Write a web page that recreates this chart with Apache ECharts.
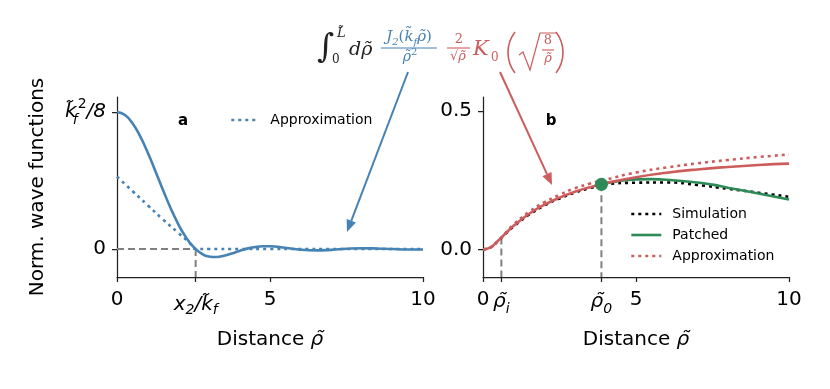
<!DOCTYPE html>
<html><head><meta charset="utf-8">
<script src="https://cdn.jsdelivr.net/npm/echarts@6/dist/echarts.min.js"></script>
<style>html,body{margin:0;padding:0;background:#fff}#c{width:830px;height:389px}</style>
</head><body><div id="c"></div>
<script>
// ---------- data ----------
const rhoA   = [0,0.25,0.5,0.75,1,1.25,1.5,1.75,2,2.25,2.5,2.75,3,3.25,3.5,3.75,4,4.25,4.5,4.75,5,5.5,6,6.5,7,7.5,8,8.5,9,9.5,10];
const waveA  = [1,0.979,0.919,0.825,0.706,0.571,0.432,0.300,0.182,0.086,0.015,-0.031,-0.054,-0.058,-0.049,-0.033,-0.014,0.003,0.014,0.020,0.020,0.009,-0.005,-0.010,-0.006,0.002,0.006,0.004,0.000,-0.003,-0.003];
const approxAx = [0,0.5,1,1.5,2,2.35,2.57,3,4,5,6,7,8,9,10];
const approxAy = [0.528,0.424,0.32,0.216,0.118,0.05,0,0,0,0,0,0,0,0,0];
const x2k = 2.57;            // x2/k_f
const yMinA = -0.204, yMaxA = 1.109;

const rhoB    = [0,0.25,0.5,0.75,1,1.5,2,2.5,3,3.5,4,5,6,7,8,9,10];
const fieldB  = [0,0.007,0.032,0.059,0.085,0.128,0.161,0.187,0.208,0.225,0.239,0.261,0.277,0.289,0.298,0.305,0.310];
const approxB = [0,0.007,0.032,0.060,0.090,0.135,0.170,0.197,0.221,0.238,0.252,0.278,0.296,0.311,0.323,0.334,0.343];
const simB    = [0,0.007,0.031,0.058,0.083,0.125,0.158,0.184,0.205,0.222,0.235,0.241,0.242,0.233,0.219,0.205,0.190];
const patchedX = [3.87,4.5,5,5.5,6,7,7.5,8,9,10];
const patchedY = [0.235,0.248,0.253,0.254,0.252,0.242,0.234,0.223,0.202,0.180];
const rhoI = 0.6,  rhoIVal = 0.043;
const rho0 = 3.87, rho0Val = 0.235;
const yMinB = -0.100, yMaxB = 0.551;

const xTicksA = [0, x2k, 5, 10];
const xLabelsA = ['{n|0}', '{xl|x}{xs|2}{xl|/k̃}{xs|f}', '{n|5}', '{n|10}'];
const yTicksA = [0, 1];
const yLabelsA = ['{n|0}', '{kl|k̃}{ks|f}{kp|2}{kl|/8}'];
const xTicksB = [0, rhoI, rho0, 5, 10];
const xLabelsB = ['{n|0}', '{rl|ρ̃}{rs|i}', '{rl|ρ̃}{rs|0}', '{n|5}', '{n|10}'];
const yTicksB = [0, 0.5];
const yLabelsB = ['{n|0.0}', '{n|0.5}'];

// ---------- styles ----------
const BLUE = '#4682b4', RED = '#cd5c5c', GREEN = '#2e8b57', GREY = '#808080';
const SANS = '"DejaVu Sans", sans-serif';
const SERIF = '"DejaVu Serif", serif';
const DOT = [3, 4];

const richTick = {
  n:  {fontSize: 20, fontFamily: SANS, color: '#000', lineHeight: 24},
  xl: {fontSize: 20, fontFamily: SANS, fontStyle: 'italic', color: '#000', lineHeight: 34},
  xs: {fontSize: 14, fontFamily: SANS, fontStyle: 'italic', color: '#000', lineHeight: 14, padding: [10, 0, 0, 0]},
  rl: {fontSize: 20, fontFamily: SANS, fontStyle: 'italic', color: '#000', lineHeight: 28},
  rs: {fontSize: 14, fontFamily: SANS, fontStyle: 'italic', color: '#000', lineHeight: 14, verticalAlign: 'bottom'},
  kl: {fontSize: 20, fontFamily: SANS, fontStyle: 'italic', color: '#000', lineHeight: 30},
  ks: {fontSize: 14, fontFamily: SANS, fontStyle: 'italic', color: '#000', lineHeight: 14, verticalAlign: 'bottom', width: 1},
  kp: {fontSize: 14, fontFamily: SANS, color: '#000', lineHeight: 14, verticalAlign: 'top'}
};
function pick(ticks, labels) {
  return v => { for (let i = 0; i < ticks.length; i++) if (Math.abs(v - ticks[i]) < 1e-6) return labels[i]; return ''; };
}
const axisLineStyle = {color: '#222', width: 1.25};
function xAxisDef(grid, ticks, labels) {
  return {
    type: 'value', gridIndex: grid, min: 0, max: 10,
    axisLine: {show: true, onZero: false, lineStyle: axisLineStyle},
    axisTick: {show: true, customValues: ticks, length: 5, lineStyle: axisLineStyle},
    axisLabel: {customValues: ticks, formatter: pick(ticks, labels), rich: richTick, margin: 11},
    splitLine: {show: false},
    name: '{n|Distance }{i|ρ̃}', nameLocation: 'middle', nameGap: 53,
    nameTextStyle: {rich: {
      n: {fontSize: 20, fontFamily: SANS, color: '#000'},
      i: {fontSize: 20, fontFamily: SANS, fontStyle: 'italic', color: '#000'}
    }}
  };
}
function yAxisDef(grid, ticks, labels, mn, mx, withName) {
  const a = {
    type: 'value', gridIndex: grid, min: mn, max: mx,
    axisLine: {show: true, onZero: false, lineStyle: axisLineStyle},
    axisTick: {show: true, customValues: ticks, length: 5, lineStyle: axisLineStyle},
    axisLabel: {customValues: ticks, formatter: pick(ticks, labels), rich: richTick, margin: 11},
    splitLine: {show: false}
  };
  if (withName) {
    a.name = 'Norm. wave functions'; a.nameLocation = 'middle'; a.nameGap = 69;
    a.nameTextStyle = {fontSize: 20, fontFamily: SANS, color: '#000'};
  }
  return a;
}
const zip = (xs, ys) => xs.map((x, i) => [x, ys[i]]);
function lineS(name, xi, yi, data, color, dotted, width, z) {
  return {
    name: name, type: 'line', xAxisIndex: xi, yAxisIndex: yi, data: data,
    showSymbol: false, symbol: 'none', smooth: true, z: z,
    lineStyle: {color: color, width: width, type: dotted ? DOT : 'solid', cap: 'butt'},
    itemStyle: {color: color}, silent: true
  };
}
function dashS(xi, yi, data) {
  return {type: 'line', xAxisIndex: xi, yAxisIndex: yi, data: data, showSymbol: false, symbol: 'none', z: 1,
    lineStyle: {color: GREY, width: 2, type: [7, 4]}, silent: true};
}

// ---------- annotation (formula + arrows) ----------
function arrow(x1, y1, x2, y2, color) {
  const dx = x2 - x1, dy = y2 - y1, L = Math.hypot(dx, dy), ux = dx / L, uy = dy / L;
  const hl = 12, hw = 5, bx = x2 - hl * ux, by = y2 - hl * uy;
  return [
    {type: 'line', shape: {x1: x1, y1: y1, x2: bx, y2: by}, style: {stroke: color, lineWidth: 2}},
    {type: 'polygon', shape: {points: [[x2, y2], [bx - hw * uy, by + hw * ux], [bx + hw * uy, by - hw * ux]]}, style: {fill: color}}
  ];
}
function T(x, y, text, size, color, italic, align, rich) {
  const st = {text: text, x: x, y: y, fill: color, font: (italic ? 'italic ' : '') + size + 'px ' + SERIF,
    align: align || 'left', verticalAlign: 'middle'};
  if (rich) st.rich = rich;
  return {type: 'text', style: st};
}
function L(x1, y1, x2, y2, color) {
  return {type: 'line', shape: {x1: x1, y1: y1, x2: x2, y2: y2}, style: {stroke: color, lineWidth: 1.1}};
}
function paren(xEdge, yTop, yBot, bulge, left, color) {
  // thin parenthesis drawn as a circular arc
  const h = (yBot - yTop) / 2, r = (h * h + bulge * bulge) / (2 * bulge), a = Math.asin(h / r);
  const cy = (yTop + yBot) / 2, cx = left ? xEdge + r : xEdge - r;
  const s = left ? Math.PI - a : -a, e = left ? Math.PI + a : a;
  return {type: 'arc', shape: {cx: cx, cy: cy, r: r, startAngle: s, endAngle: e, clockwise: true},
          style: {stroke: color, lineWidth: 1.6, fill: null}};
}
const fr = (c, fs) => ({
  i: {fontFamily: SERIF, fontStyle: 'italic', fontSize: fs, color: c, lineHeight: 20},
  n: {fontFamily: SERIF, fontSize: fs, color: c, lineHeight: 20},
  s: {fontFamily: SERIF, fontStyle: 'italic', fontSize: 10, color: c, lineHeight: 10, verticalAlign: 'bottom'},
  p: {fontFamily: SERIF, fontSize: 10, color: c, lineHeight: 10, verticalAlign: 'top'}
});
const BLK = '#222';
const formula = [
  T(317, 48, '∫', 33, BLK, false),
  T(332, 60, '0', 12, BLK, false),
  T(337, 34, 'L̃', 13, BLK, true),
  T(349, 50, 'dρ̃', 19, BLK, true),
  T(409, 37, '{i|J}{s|2}{n|(}{i|k̃}{s|f}{i|ρ̃}{n|)}', 15, BLUE, false, 'center', fr(BLUE, 15)),
  L(381, 48, 437, 48, BLUE),
  T(410, 57, '{i|ρ̃}{p|2}', 15, BLUE, false, 'center', fr(BLUE, 14)),
  T(459, 40, '2', 13, RED, false, 'center'),
  L(447, 48, 470, 48, RED),
  T(458, 57, '{n|√}{i|ρ̃}', 13, RED, false, 'center', fr(RED, 13)),
  T(473, 50, 'K', 21, RED, true),
  T(491, 58, '0', 12, RED, false),
  paren(508, 32, 73, 7, true, RED),
  {type: 'polyline', shape: {points: [[519, 55], [523, 52], [530, 70], [540, 33], [556, 33]]}, style: {stroke: RED, lineWidth: 1.2, fill: null}},
  T(548, 41, '8', 13, RED, false, 'center'),
  L(542, 50, 554, 50, RED),
  T(548, 59, 'ρ̃', 13, RED, true, 'center'),
  paren(563, 32, 73, 7, false, RED)
];
const graphics = formula
  .concat(arrow(408, 72, 347, 232, BLUE))
  .concat(arrow(500, 72, 552, 185, RED))
  .concat([
    {type: 'text', style: {text: 'a', x: 183, y: 121, align: 'center', verticalAlign: 'middle', font: 'bold 15px ' + SANS, fill: '#000'}},
    {type: 'text', style: {text: 'b', x: 551, y: 121, align: 'center', verticalAlign: 'middle', font: 'bold 15px ' + SANS, fill: '#000'}}
  ]);

// ---------- option ----------
const legendText = {fontSize: 14, fontFamily: SANS, color: '#000', padding: [0, 0, 0, 6]};
const legendLine = {width: 2.6};
const option = {
  animation: false,
  backgroundColor: '#fff',
  grid: [
    {left: 117, top: 97, width: 306, height: 180},
    {left: 483, top: 97, width: 306, height: 180}
  ],
  xAxis: [xAxisDef(0, xTicksA, xLabelsA), xAxisDef(1, xTicksB, xLabelsB)],
  yAxis: [yAxisDef(0, yTicksA, yLabelsA, yMinA, yMaxA, true), yAxisDef(1, yTicksB, yLabelsB, yMinB, yMaxB, false)],
  legend: [
    {data: ['Approximation A'], left: 230, top: 113, padding: 0, itemWidth: 28, itemHeight: 14, itemGap: 8, selectedMode: false,
     itemStyle: {opacity: 0}, lineStyle: legendLine, formatter: () => 'Approximation', textStyle: legendText},
    {data: ['Simulation', 'Patched', 'Approximation B'], orient: 'vertical', left: 630, top: 207, padding: 0, itemWidth: 30, itemHeight: 14, itemGap: 7,
     selectedMode: false, itemStyle: {opacity: 0}, lineStyle: legendLine, formatter: n => n === 'Approximation B' ? 'Approximation' : n, textStyle: legendText}
  ],
  series: [
    dashS(0, 0, [[0, 0], [x2k, 0]]),
    dashS(0, 0, [[x2k, 0], [x2k, yMinA]]),
    lineS('Approximation A', 0, 0, zip(approxAx, approxAy), BLUE, true, 2.6, 3),
    lineS('Wave A', 0, 0, zip(rhoA, waveA), BLUE, false, 2.6, 4),

    dashS(1, 1, [[rhoI, rhoIVal], [rhoI, yMinB]]),
    dashS(1, 1, [[rho0, rho0Val], [rho0, yMinB]]),
    lineS('Simulation', 1, 1, zip(rhoB, simB), '#000', true, 2.6, 2),
    lineS('Patched', 1, 1, zip(patchedX, patchedY), GREEN, false, 2.6, 3),
    lineS('Approximation B', 1, 1, zip(rhoB, approxB), RED, true, 2.6, 4),
    lineS('Field B', 1, 1, zip(rhoB, fieldB), RED, false, 2.6, 5),
    {type: 'scatter', xAxisIndex: 1, yAxisIndex: 1, data: [[rho0, rho0Val]], symbolSize: 13, z: 6,
     itemStyle: {color: GREEN, opacity: 1}, silent: true}
  ],
  graphic: graphics
};
const chart = echarts.init(document.getElementById('c'), null, {renderer: 'canvas'});
chart.setOption(option);
</script>
</body></html>
